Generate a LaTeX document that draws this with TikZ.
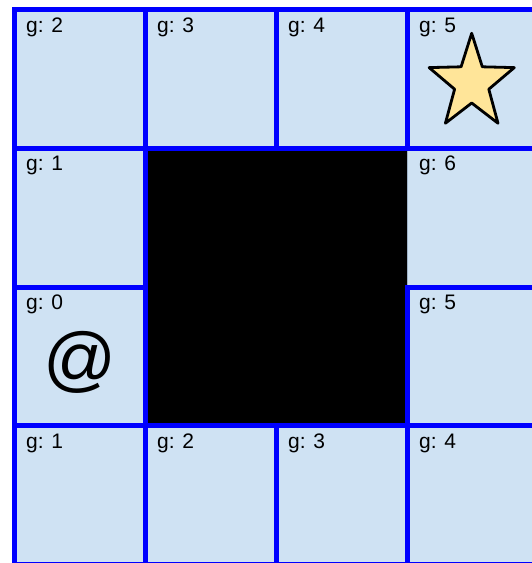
\documentclass[tikz,border=0pt]{standalone}
\usepackage{fontspec}
\setmainfont{Liberation Sans}
\definecolor{cellfill}{HTML}{CFE2F3}
\definecolor{starfill}{HTML}{FFE599}
\definecolor{gridblue}{HTML}{0000FF}
\definecolor{thinedge}{HTML}{9FB3C8}
\begin{document}
\begin{tikzpicture}[x=1pt,y=-1pt,
  cell/.style={fill=cellfill,draw=thinedge,line width=0.8pt},
  wall/.style={fill=black},
  gridline/.style={draw=gridblue,line width=5pt,line cap=rect},
  glabel/.style={anchor=base west,inner sep=0pt,font=\fontsize{21}{24}\selectfont},
  agent/.style={inner sep=0pt,font=\fontsize{72}{80}\selectfont},
  goal/.style={fill=starfill,draw=black,line width=2.8pt,line join=round}]
\useasboundingbox (0,0) rectangle (531,563);
\fill[white] (0,0) rectangle (531,563);
% cells
\foreach \xa/\xb in {14.5/145,145/276,276/407,407/538}{
  \foreach \ya/\yb in {9.5/148,148/287,287/425.5,425.5/564}{
    \path[cell] (\xa,\ya) rectangle (\xb,\yb);
  }
}
% wall
\path[wall] (145,148) rectangle (407,425.5);
% blue grid lines
\path[gridline] (14.5,9.5) -- (538,9.5);
\path[gridline] (14.5,148) -- (538,148);
\path[gridline] (14.5,287) -- (145,287);
\path[gridline] (407,287) -- (538,287);
\path[gridline] (14.5,425.5) -- (538,425.5);
\path[gridline] (14.5,564) -- (538,564);
\path[gridline] (14.5,9.5) -- (14.5,564);
\path[gridline] (145,9.5) -- (145,564);
\path[gridline] (276,9.5) -- (276,148);
\path[gridline] (276,425.5) -- (276,564);
\path[gridline] (407,9.5) -- (407,148);
\path[gridline] (407,287) -- (407,564);
\path[gridline] (538,9.5) -- (538,564);
% labels
\node[glabel] (g00) at (26,32) {g: 2};
\node[glabel] (g01) at (157,32) {g: 3};
\node[glabel] (g02) at (288,32) {g: 4};
\node[glabel] (g03) at (419,32) {g: 5};
\node[glabel] (g10) at (26,170.5) {g: 1};
\node[glabel] (g13) at (419,170.5) {g: 6};
\node[glabel] (g20) at (26,309.5) {g: 0};
\node[glabel] (g23) at (419,309.5) {g: 5};
\node[glabel] (g30) at (26,448) {g: 1};
\node[glabel] (g31) at (157,448) {g: 2};
\node[glabel] (g32) at (288,448) {g: 3};
\node[glabel] (g33) at (419,448) {g: 4};
% agent
\node[agent] (at) at (80,362) {@};
% goal star
\path[goal] (471.7,33.25) -- (461.1,66.8) -- (429.1,67.6) -- (454.6,89.2)
  -- (445.4,123.25) -- (471.7,103) -- (498.0,123.25) -- (488.8,89.2)
  -- (514.3,67.6) -- (482.3,66.8) -- cycle;
\end{tikzpicture}
\end{document}
